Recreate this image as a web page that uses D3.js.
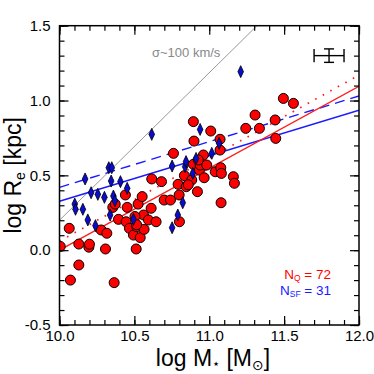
<!DOCTYPE html>
<html>
<head>
<meta charset="utf-8">
<script src="https://cdn.jsdelivr.net/npm/d3@7"></script>
<style>
  html, body { margin: 0; padding: 0; background: #fff; }
  svg { display: block; font-family: "Liberation Sans", Arial, Helvetica, sans-serif; }
</style>
</head>
<body>
<svg id="chart" width="374" height="374"></svg>
<script>
// ---- data ----
const quiescent = [
  [10.005,0.025],[10.065,0.146],[10.073,-0.20],[10.129,0.041],[10.129,-0.099],[10.196,0.02],[10.2,0.04],
  [10.278,0.135],[10.316,0.113],[10.307,0.008],[10.365,-0.217],[10.356,0.286],[10.372,0.308],[10.394,0.206],
  [10.44,0.369],[10.452,0.286],[10.445,0.19],[10.467,0.146],[10.494,0.101],[10.512,0.008],[10.516,0.157],
  [10.525,0.308],[10.539,0.084],[10.552,0.358],[10.561,0.235],[10.565,0.139],[10.594,0.202],[10.612,0.280],
  [10.616,0.476],[10.645,0.19],[10.681,0.458],[10.699,0.335],[10.741,0.335],[10.761,0.647],[10.792,0.44],
  [10.799,0.369],[10.801,0.19],[10.834,0.498],[10.846,0.424],[10.883,0.469],[10.894,0.574],[10.894,0.859],
  [10.898,0.729],[10.921,0.391],[10.934,0.535],[10.939,0.569],[10.961,0.636],[10.966,0.484],[10.983,0.569],
  [11.01,0.796],[11.04,0.524],[11.072,0.741],[11.072,0.669],[11.077,0.551],[11.081,0.513],[11.079,0.317],
  [11.161,0.491],[11.168,0.447],[11.244,0.814],[11.306,0.903],[11.335,0.814],[11.44,0.870],[11.444,0.747],
  [11.495,1.014],[11.562,0.981],[10.504,0.225],[10.515,0.17],[10.927,0.603],[10.86,0.437]
];
const starForming = [
  [10.171,0.476],[10.102,0.308],[10.107,0.273],[10.156,0.273],[10.189,0.202],[10.211,0.384],[10.24,0.164],
  [10.256,0.373],[10.30,0.353],[10.329,0.551],[10.349,0.551],[10.345,0.462],[10.338,0.235],[10.36,0.362],
  [10.37,0.33],[10.407,0.458],[10.452,0.413],[10.494,0.206],[10.616,0.774],[10.752,0.562],[10.752,0.15],
  [10.79,0.235],[10.823,0.317],[10.839,0.558],[10.89,0.513],[10.912,0.613],[10.939,0.807],[11.017,0.647],
  [11.066,0.714],[11.21,1.193],[10.845,0.592]
];
// fitted relations: [x, y] endpoints
const fitQSolid   = [[10.0, 0.0],  [12.0, 1.095]];
const fitQDotted  = [[10.0, 0.06], [12.0, 1.17]];
const fitSFSolid  = [[10.0, 0.327],[12.0, 0.935]];
const fitSFDashed = [[10.0, 0.42], [12.0, 1.03]];
const sigmaLine   = [[10.0, 0.2],  [11.4, 1.58]];
const errorBar = { x: 11.8, y: 1.3, xerr: 0.1, yerr: 0.045 };
const xTickValues = [10.0, 10.5, 11.0, 11.5, 12.0];
const xTickLabels = ["10.0", "10.5", "11.0", "11.5", "12.0"];
const yTickValues = [-0.5, 0.0, 0.5, 1.0, 1.5];
const yTickLabels = ["-0.5", "0.0", "0.5", "1.0", "1.5"];
const countLabels = { q: "72", sf: "31" };

// ---- layout ----
const svg = d3.select("#chart");
const L = 59.5, R = 359, T = 25.7, B = 325;
const x = d3.scaleLinear().domain([10, 12]).range([L, R]);
const y = d3.scaleLinear().domain([-0.5, 1.5]).range([B, T]);

svg.append("defs").append("clipPath").attr("id", "clip")
  .append("rect").attr("x", L).attr("y", T).attr("width", R - L).attr("height", B - T);

const plot = svg.append("g").attr("clip-path", "url(#clip)");
const line = d3.line().x(d => x(d[0])).y(d => y(d[1]));

plot.append("path").datum(sigmaLine).attr("d", line)
  .attr("fill", "none").attr("stroke", "#999").attr("stroke-width", 1);
plot.append("path").datum(fitSFSolid).attr("d", line)
  .attr("fill", "none").attr("stroke", "#1a1aff").attr("stroke-width", 1.4);
plot.append("path").datum(fitSFDashed).attr("d", line)
  .attr("fill", "none").attr("stroke", "#1a1aff").attr("stroke-width", 1.4).attr("stroke-dasharray", "10,6");
plot.append("path").datum(fitQSolid).attr("d", line)
  .attr("fill", "none").attr("stroke", "#ff1a1a").attr("stroke-width", 1.4);
plot.append("path").datum(fitQDotted).attr("d", line)
  .attr("fill", "none").attr("stroke", "#ff1a1a").attr("stroke-width", 1.7).attr("stroke-dasharray", "1.6,7");

plot.selectAll("circle.q").data(quiescent).enter().append("circle")
  .attr("class", "q")
  .attr("cx", d => x(d[0])).attr("cy", d => y(d[1])).attr("r", 5)
  .attr("fill", "#ff0000").attr("stroke", "#000").attr("stroke-width", 1);

const dw = 2.8, dh = 6;
plot.selectAll("path.sf").data(starForming).enter().append("path")
  .attr("class", "sf")
  .attr("d", d => {
    const cx = x(d[0]), cy = y(d[1]);
    return `M${cx},${cy - dh}L${cx + dw},${cy}L${cx},${cy + dh}L${cx - dw},${cy}Z`;
  })
  .attr("fill", "#0a0ad0").attr("stroke", "#000").attr("stroke-width", 0.8);

// error bar
const eb = svg.append("g").attr("stroke", "#000").attr("stroke-width", 1.4).attr("fill", "none");
const ex0 = x(errorBar.x - errorBar.xerr), ex1 = x(errorBar.x + errorBar.xerr), exc = x(errorBar.x);
const ey0 = y(errorBar.y + errorBar.yerr), ey1 = y(errorBar.y - errorBar.yerr), eyc = y(errorBar.y);
eb.append("line").attr("x1", ex0).attr("x2", ex1).attr("y1", eyc).attr("y2", eyc);
eb.append("line").attr("x1", ex0).attr("x2", ex0).attr("y1", ey0).attr("y2", ey1);
eb.append("line").attr("x1", ex1).attr("x2", ex1).attr("y1", ey0).attr("y2", ey1);
eb.append("line").attr("x1", exc).attr("x2", exc).attr("y1", ey0).attr("y2", ey1);
eb.append("line").attr("x1", exc - 5).attr("x2", exc + 5).attr("y1", ey0).attr("y2", ey0);
eb.append("line").attr("x1", exc - 5).attr("x2", exc + 5).attr("y1", ey1).attr("y2", ey1);

// ---- axes ----
const minorX = d3.range(10, 12.0001, 0.1);
const minorY = d3.range(-0.5, 1.5001, 0.1);
function styleAxis(g) {
  g.select(".domain").remove();
  g.selectAll(".tick line").attr("stroke", "#000").attr("stroke-width", 1.2);
}
// bottom
svg.append("g").attr("transform", `translate(0,${B})`)
  .call(d3.axisBottom(x).tickValues(minorX).tickSize(-5).tickFormat(""))
  .call(styleAxis);
svg.append("g").attr("transform", `translate(0,${B})`)
  .call(d3.axisBottom(x).tickValues(xTickValues).tickSize(-9).tickPadding(5)
    .tickFormat((d, i) => xTickLabels[i]))
  .call(styleAxis)
  .call(g => g.selectAll("text").attr("font-size", 15).attr("fill", "#000"));
// top
svg.append("g").attr("transform", `translate(0,${T})`)
  .call(d3.axisTop(x).tickValues(minorX).tickSize(-5).tickFormat("")).call(styleAxis);
svg.append("g").attr("transform", `translate(0,${T})`)
  .call(d3.axisTop(x).tickValues(xTickValues).tickSize(-9).tickFormat("")).call(styleAxis);
// left
svg.append("g").attr("transform", `translate(${L},0)`)
  .call(d3.axisLeft(y).tickValues(minorY).tickSize(-5).tickFormat("")).call(styleAxis);
svg.append("g").attr("transform", `translate(${L},0)`)
  .call(d3.axisLeft(y).tickValues(yTickValues).tickSize(-9).tickPadding(9)
    .tickFormat((d, i) => yTickLabels[i]))
  .call(styleAxis)
  .call(g => g.selectAll("text").attr("font-size", 15).attr("fill", "#000"));
// right
svg.append("g").attr("transform", `translate(${R},0)`)
  .call(d3.axisRight(y).tickValues(minorY).tickSize(-5).tickFormat("")).call(styleAxis);
svg.append("g").attr("transform", `translate(${R},0)`)
  .call(d3.axisRight(y).tickValues(yTickValues).tickSize(-9).tickFormat("")).call(styleAxis);

svg.append("rect").attr("x", L).attr("y", T).attr("width", R - L).attr("height", B - T)
  .attr("fill", "none").attr("stroke", "#000").attr("stroke-width", 1.5);

// ---- texts ----
svg.append("text").attr("x", 152).attr("y", 57).attr("font-size", 13).attr("fill", "#888")
  .text("σ~100 km/s");

const tq = svg.append("text").attr("x", 331).attr("y", 279).attr("text-anchor", "end")
  .attr("font-size", 13.5).attr("fill", "#ff0000");
tq.append("tspan").text("N");
tq.append("tspan").attr("font-size", 8.5).attr("dy", 2).text("Q");
tq.append("tspan").attr("dy", -2).text(" = " + countLabels.q);

const tsf = svg.append("text").attr("x", 331).attr("y", 295).attr("text-anchor", "end")
  .attr("font-size", 13.5).attr("fill", "#1a1aff");
tsf.append("tspan").text("N");
tsf.append("tspan").attr("font-size", 8.5).attr("dy", 2).text("SF");
tsf.append("tspan").attr("dy", -2).text(" = " + countLabels.sf);

// x label
const xl = svg.append("text").attr("x", 213).attr("y", 366).attr("text-anchor", "middle")
  .attr("font-size", 23).attr("fill", "#000");
xl.append("tspan").text("log M");
xl.append("tspan").attr("font-size", 13).attr("dy", 2).text("⋆");
xl.append("tspan").attr("dy", -2).text(" [M");
xl.append("tspan").attr("font-size", 14).attr("dy", 4).attr("font-family", "DejaVu Sans").text("⊙");
xl.append("tspan").attr("dy", -4).text("]");

// y label
const yl = svg.append("text").attr("transform", `translate(21,${(T + B) / 2}) rotate(-90)`)
  .attr("text-anchor", "middle").attr("font-size", 23).attr("fill", "#000");
yl.append("tspan").text("log R");
yl.append("tspan").attr("font-size", 14).attr("dy", 4).text("e");
yl.append("tspan").attr("dy", -4).text(" [kpc]");
</script>
</body>
</html>
